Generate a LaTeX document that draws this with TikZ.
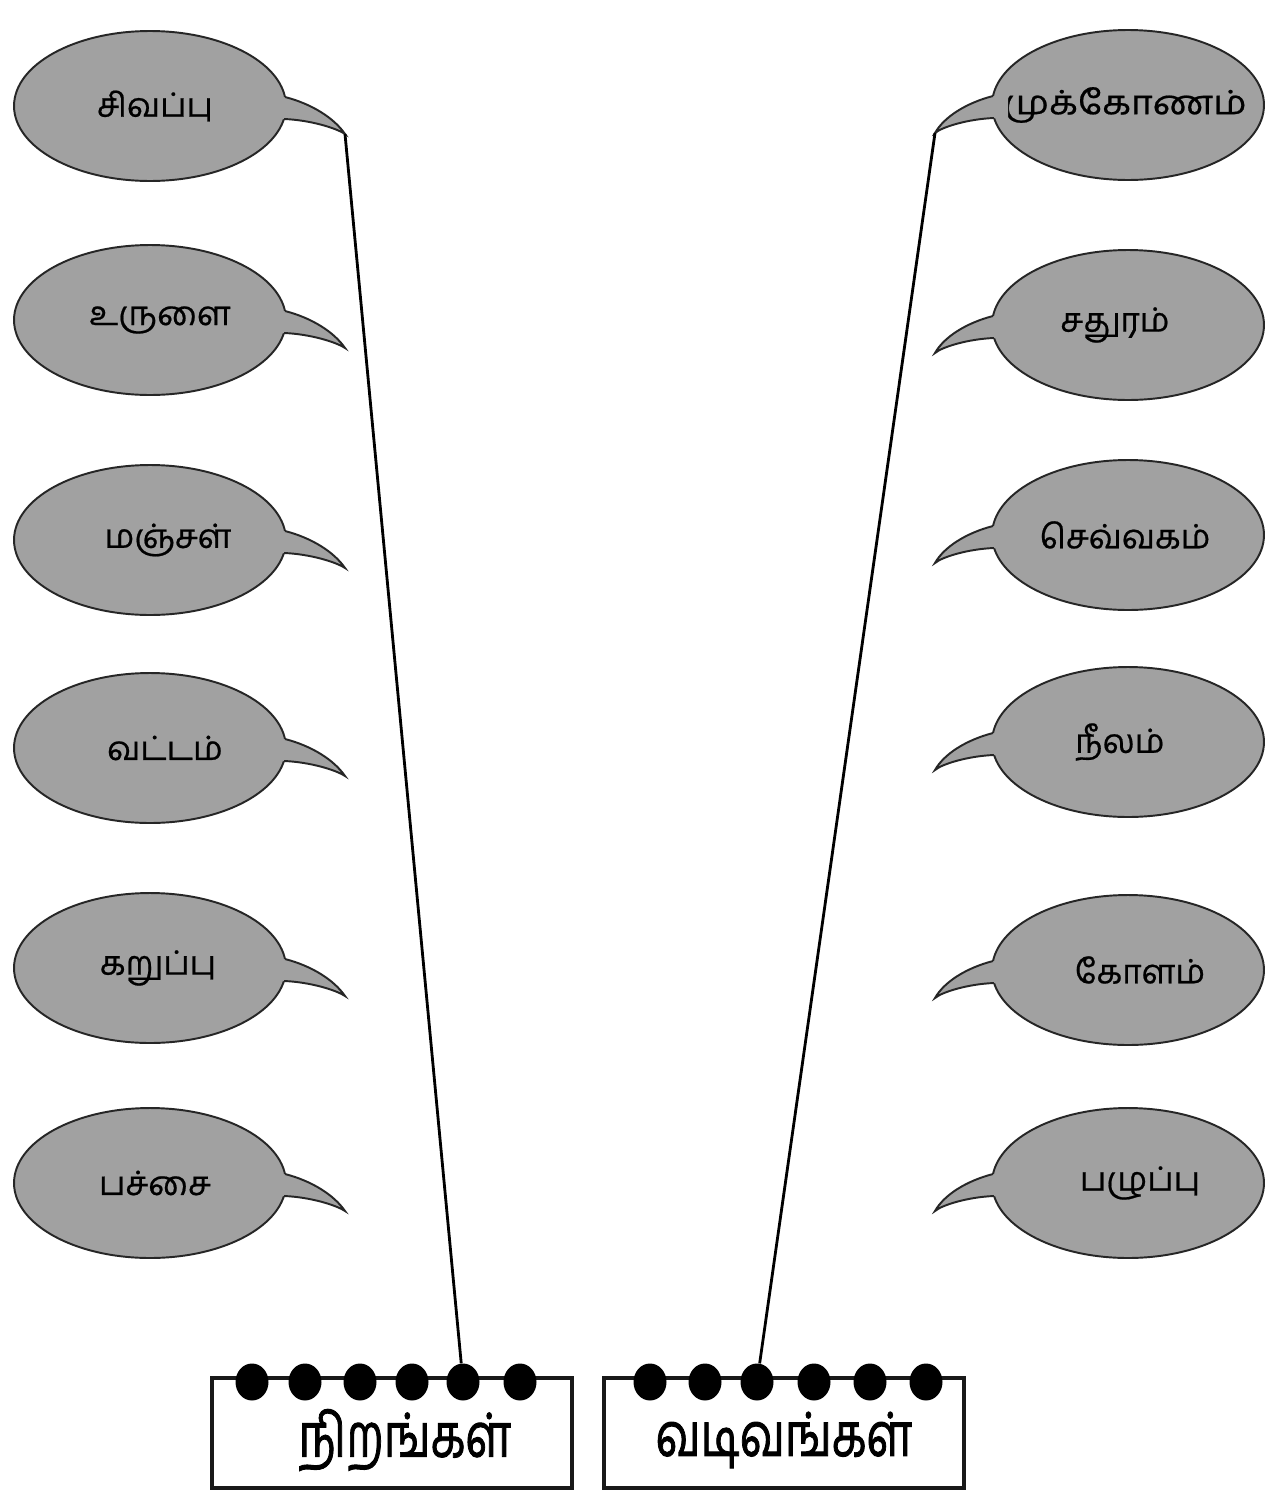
\documentclass[tikz,border=0pt]{standalone}
\usepackage{fontspec}
\newfontfamily\tamil[Script=Tamil,FakeBold=0.6]{Hind Madurai}
\newfontfamily\tamillabel[Script=Tamil,FakeBold=1.6]{Hind Madurai}
\usetikzlibrary{shapes.geometric}
\definecolor{bubblegray}{gray}{0.63}
\tikzset{
  bubble/.style={ellipse, draw=black!85, line width=1.1pt, fill=bubblegray,
    minimum width=5.44cm, minimum height=3.0cm, inner sep=0pt},
  bubbletext/.style={font=\tamil\fontsize{19}{22}\selectfont},
  outline/.style={draw=black!85, line width=1.1pt},
  conn/.style={draw=black, line width=1.6pt},
  dotnode/.style={ellipse, fill=black, minimum width=0.66cm, minimum height=0.74cm, inner sep=0pt},
  labelbox/.style={rectangle, draw=black!90, line width=2.6pt, fill=white,
    minimum width=7.2cm, minimum height=2.2cm, inner sep=0pt},
}
% left bubble: name, y-centre, text x, text
\newcommand\lbub[4]{%
  \node[bubble] (#1) at (150,#2) {};
  \node[bubbletext] (#1t) at (#3,#2) {#4};
  \coordinate (#1tip) at (345,{#2+28});
  \fill[bubblegray] (270,{#2-9}) -- (285,{#2-9}) .. controls (312,{#2-2}) and (334,{#2+12}) .. (#1tip)
     .. controls (336,{#2+22}) and (310,{#2+14}) .. (284,{#2+13}) -- (270,{#2+13}) -- cycle;
  \draw[outline] (285,{#2-9}) .. controls (312,{#2-2}) and (334,{#2+12}) .. (#1tip)
     .. controls (336,{#2+22}) and (310,{#2+14}) .. (284,{#2+13});
}
\newcommand\rbub[4]{%
  \node[bubble] (#1) at (1128,#2) {};
  \node[bubbletext] (#1t) at (#3,#2) {#4};
  \coordinate (#1tip) at (935,{#2+28});
  \fill[bubblegray] (1008,{#2-9}) -- (993,{#2-9}) .. controls (966,{#2-2}) and (944,{#2+12}) .. (#1tip)
     .. controls (942,{#2+22}) and (968,{#2+14}) .. (994,{#2+13}) -- (1008,{#2+13}) -- cycle;
  \draw[outline] (993,{#2-9}) .. controls (966,{#2-2}) and (944,{#2+12}) .. (#1tip)
     .. controls (942,{#2+22}) and (968,{#2+14}) .. (994,{#2+13});
}
\begin{document}
\begin{tikzpicture}[x=0.02cm,y=-0.02cm]
\useasboundingbox[fill=white] (0,0) rectangle (1273,1494);

\lbub{L1}{106}{155}{சிவப்பு}
\lbub{L2}{320}{160}{உருளை}
\lbub{L3}{540}{168}{மஞ்சள்}
\lbub{L4}{748}{165}{வட்டம்}
\lbub{L5}{968}{158}{கறுப்பு}
\lbub{L6}{1183}{155}{பச்சை}

\rbub{R1}{105}{1125}{\scalebox{1.12}[1]{முக்கோணம்}}
\rbub{R2}{325}{1115}{சதுரம்}
\rbub{R3}{535}{1125}{செவ்வகம்}
\rbub{R4}{742}{1120}{நீலம்}
\rbub{R5}{970}{1140}{கோளம்}
\rbub{R6}{1183}{1140}{பழுப்பு}

\node[labelbox] (colours) at (392,1433) {};
\node[font=\tamillabel\fontsize{30}{34}\selectfont] (colourst) at (405,1440) {\scalebox{0.86}[1.15]{நிறங்கள்}};
\node[labelbox] (shapes) at (784,1433) {};
\node[font=\tamillabel\fontsize{30}{34}\selectfont] (shapest) at (784,1440) {\scalebox{0.86}[1.15]{வடிவங்கள்}};

\foreach \i/\x in {1/252,2/305,3/360,4/412,5/463,6/520}
  \node[dotnode] (cd\i) at (\x,1382) {};
\foreach \i/\x in {1/650,2/705,3/757,4/814,5/870,6/926}
  \node[dotnode] (sd\i) at (\x,1382) {};

\draw[conn] (L1tip) -- (cd5);
\draw[conn] (R1tip) -- (sd3);
\end{tikzpicture}
\end{document}
